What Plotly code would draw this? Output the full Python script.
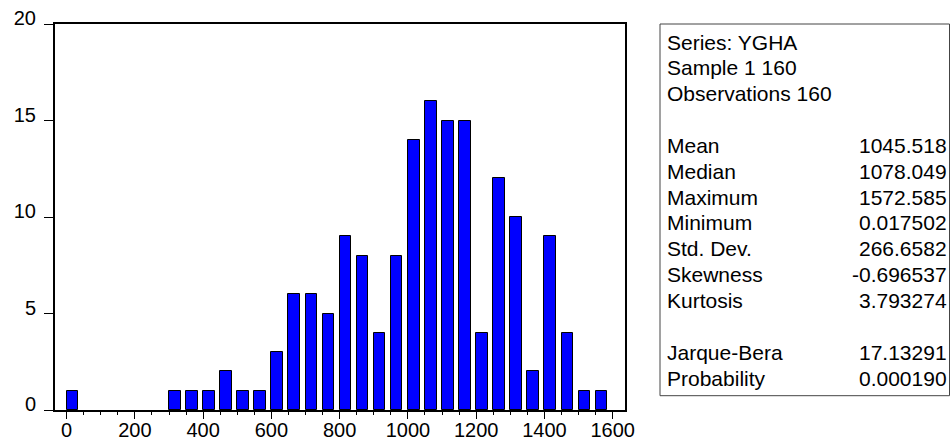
import plotly.graph_objects as go

# ---- data ----
bin_starts = [0, 50, 100, 150, 200, 250, 300, 350, 400, 450, 500, 550, 600, 650, 700, 750,
              800, 850, 900, 950, 1000, 1050, 1100, 1150, 1200, 1250, 1300, 1350, 1400, 1450, 1500, 1550]
counts = [1, 0, 0, 0, 0, 0, 1, 1, 1, 2, 1, 1, 3, 6, 6, 5,
          9, 8, 4, 8, 14, 16, 15, 15, 4, 12, 10, 2, 9, 4, 1, 1]
x_ticks = [0, 200, 400, 600, 800, 1000, 1200, 1400, 1600]
y_ticks = [0, 5, 10, 15, 20]

header_lines = ["Series: YGHA", "Sample 1 160", "Observations 160"]
stat_names = ["Mean", "Median", "Maximum", "Minimum", "Std. Dev.", "Skewness", "Kurtosis"]
stat_values = ["1045.518", "1078.049", "1572.585", "0.017502", "266.6582", "-0.696537", "3.793274"]
test_names = ["Jarque-Bera", "Probability"]
test_values = ["17.13291", "0.000190"]

# ---- layout geometry (pixels) ----
W, H = 951, 443
L, R, T, B = 55, 625, 24, 410
FONT = "Liberation Sans, Arial, sans-serif"

def px(xp):
    return (xp - L) / (R - L)

def py(yp):
    return (B - yp) / (B - T)

fig = go.Figure()
fig.add_trace(go.Bar(
    x=bin_starts, y=counts, width=34, offset=0,
    marker=dict(color="#0000FF",
                line=dict(color="black", width=[1 if c > 0 else 0 for c in counts])),
    showlegend=False, hoverinfo="x+y",
))

fig.update_layout(
    template="none",
    width=W, height=H,
    margin=dict(l=L, r=W - R, t=T, b=H - B, pad=0, autoexpand=False),
    plot_bgcolor="white", paper_bgcolor="white",
    font=dict(family=FONT, size=20, color="black"),
    bargap=0,
)
fig.update_xaxes(
    range=[-34, 1636], tickvals=x_ticks, ticktext=[str(v) for v in x_ticks],
    ticks="outside", ticklen=7, tickwidth=1, tickcolor="black",
    minor=dict(dtick=50, tick0=0, ticks="outside", ticklen=3, tickwidth=1, tickcolor="black"),
    showline=True, linecolor="black", linewidth=2, mirror=True,
    showgrid=False, zeroline=False, automargin=False, ticklabelstandoff=-6,
    tickfont=dict(family=FONT, size=20, color="black"),
)
fig.update_yaxes(
    range=[0, 20], tickvals=y_ticks, ticktext=[str(v) for v in y_ticks],
    ticks="outside", ticklen=9, tickwidth=1, tickcolor="black",
    showline=True, linecolor="black", linewidth=2, mirror=True,
    showgrid=False, zeroline=False, ticklabelstandoff=4, ticklabelshift=-6,
    automargin=False,
    tickfont=dict(family=FONT, size=20, color="black"),
)

# stats box
fig.add_shape(type="rect", xref="paper", yref="paper",
              x0=px(660), x1=px(949.5), y0=py(395.7), y1=py(24),
              line=dict(color="#444444", width=1), fillcolor="rgba(0,0,0,0)")

rows = []
for i, t in enumerate(header_lines):
    rows.append((i, t, None))
for j, (n, v) in enumerate(zip(stat_names, stat_values)):
    rows.append((4 + j, n, v))
for j, (n, v) in enumerate(zip(test_names, test_values)):
    rows.append((12 + j, n, v))

for idx, name, val in rows:
    yc = 42.0 + idx * 25.85
    fig.add_annotation(xref="paper", yref="paper", x=px(665.0), y=py(yc),
                       text=name, showarrow=False, xanchor="left", yanchor="middle",
                       font=dict(family=FONT, size=21, color="black"))
    if val is not None:
        fig.add_annotation(xref="paper", yref="paper", x=px(949.0), y=py(yc),
                           text=val, showarrow=False, xanchor="right", yanchor="middle",
                           font=dict(family=FONT, size=21, color="black"))

fig.write_html("out.html", config={"displayModeBar": False},
               post_script="document.body.style.margin='0';")
